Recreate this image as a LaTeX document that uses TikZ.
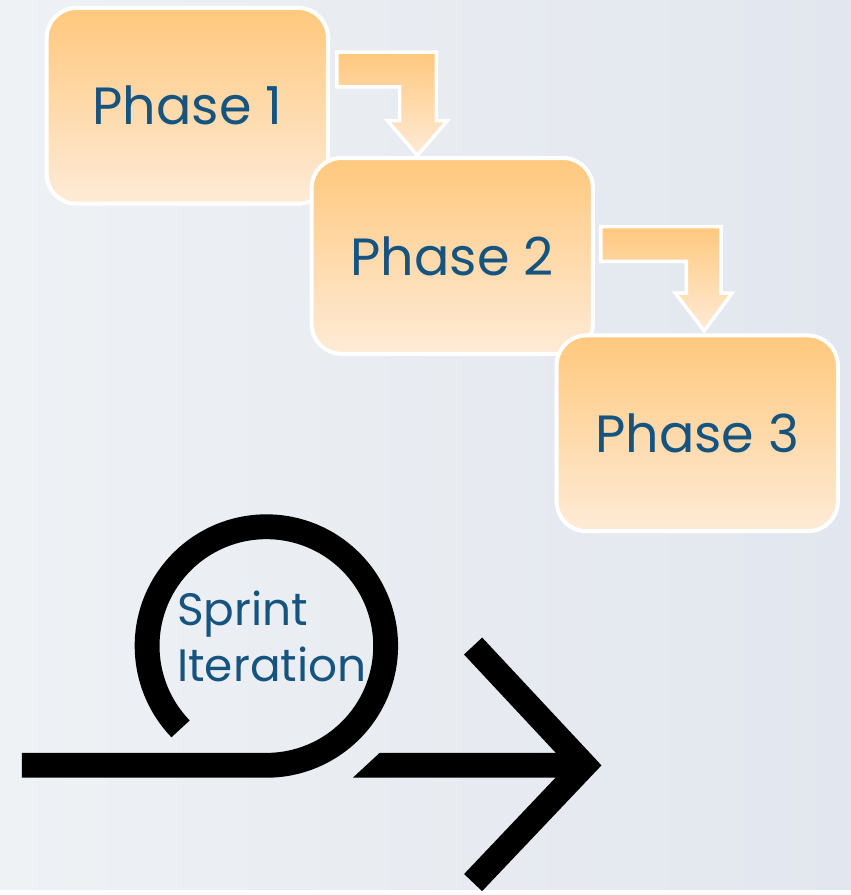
\documentclass[tikz,border=0pt]{standalone}
\usepackage{fontspec}
\setmainfont{Poppins}
\usetikzlibrary{calc}
\definecolor{phasetop}{RGB}{255,200,125}
\definecolor{phasebot}{RGB}{254,235,215}
\definecolor{phasetext}{RGB}{22,84,128}
\definecolor{bgleft}{RGB}{238,242,245}
\definecolor{bgright}{RGB}{226,230,238}

\begin{document}
\begin{tikzpicture}[x=0.02cm,y=0.02cm,
    phasebox/.style={draw=white,line width=0.08cm,rounded corners=0.6cm,top color=phasetop,bottom color=phasebot,minimum width=5.66cm,minimum height=3.94cm,text=phasetext,font=\fontsize{30}{36}\selectfont},
    bendarrow/.style={draw=white,line width=0.07cm,top color=phasetop,bottom color=phasebot,line join=miter},
    loopline/.style={line width=0.5cm}]
  % background
  \fill[left color=bgleft,right color=bgright] (0,0) rectangle (856,895);
  % the three phases
  \node[phasebox] (p1) at (188.5,788.5) {Phase 1};
  \draw[bendarrow] ($(p1.east)+(7,54)$) -- ++(100,0) -- ++(0,-69) -- ++(11,0) -- ++(-30,-35) -- ++(-30,35) -- ++(12,0) -- ++(0,34) -- ++(-63,0) -- cycle;
  \node[phasebox] (p2) at (455,637.5) {Phase 2};
  \draw[bendarrow] ($(p2.east)+(6,29.5)$) -- ++(121,0) -- ++(0,-67) -- ++(11,0) -- ++(-28,-38) -- ++(-29,38) -- ++(11,0) -- ++(0,32) -- ++(-86,0) -- cycle;
  \node[phasebox] (p3) at (701.5,459) {Phase 3};
  % the sprint loop
  \draw[loopline] (22,125) -- (268,125) arc[start angle=-90,end angle=224,radius=120];
  \fill (355,112.5) -- (382,137.5) -- (590,137.5) -- (590,112.5) -- cycle;
  \draw[loopline,line join=miter] (476,245) -- (588,125) -- (476,7);
  \node[text=phasetext,align=left,anchor=west,inner sep=0pt,font=\fontsize{26}{32}\selectfont] (sprint) at (178,255) {Sprint\\Iteration};
\end{tikzpicture}
\end{document}
